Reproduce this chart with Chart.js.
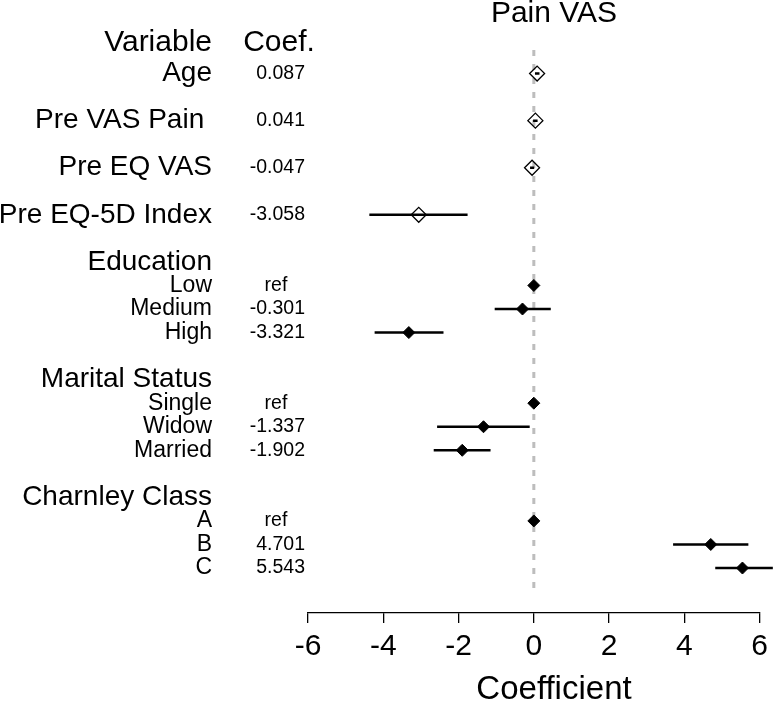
<!DOCTYPE html>
<html><head><meta charset="utf-8">
<script src="https://cdn.jsdelivr.net/npm/chart.js@4"></script>
<style>html,body{margin:0;padding:0;background:#fff;}#wrap{width:774px;height:704px;}</style>
</head><body><div id="wrap"><canvas id="c" width="774" height="704"></canvas></div>
<script>
// ---- data ----
const chartTitle = "Pain VAS";
const xAxisTitle = "Coefficient";
const headerLabels = ["Variable", "Coef."];
const rowLabels = ["Age", "Pre VAS Pain ", "Pre EQ VAS", "Pre EQ-5D Index",
  "Education", "Low", "Medium", "High",
  "Marital Status", "Single", "Widow", "Married",
  "Charnley Class", "A", "B", "C"];
const rowKinds = ["main", "main", "main", "main",
  "group", "sub", "sub", "sub",
  "group", "sub", "sub", "sub",
  "group", "sub", "sub", "sub"];
const rowPositions = [0, 2, 4, 6, 8, 9, 10, 11, 13, 14, 15, 16, 18, 19, 20, 21];
const coefTexts = ["0.087", "0.041", "-0.047", "-3.058",
  "", "ref", "-0.301", "-3.321",
  "", "ref", "-1.337", "-1.902",
  "", "ref", "4.701", "5.543"];
const coefValues = [0.087, 0.041, -0.047, -3.058,
  null, 0, -0.301, -3.321,
  null, 0, -1.337, -1.902,
  null, 0, 4.701, 5.543];
const ciLower = [0.03, -0.02, -0.10, -4.37,
  null, null, -1.04, -4.23,
  null, null, -2.57, -2.66,
  null, null, 3.70, 4.82];
const ciUpper = [0.15, 0.10, 0.01, -1.76,
  null, null, 0.45, -2.40,
  null, null, -0.11, -1.15,
  null, null, 5.70, 6.35];
const openMarker = [true, true, true, true,
  false, false, false, false,
  false, false, false, false,
  false, false, false, false];
const xTickValues = [-6, -4, -2, 0, 2, 4, 6];
const xTickLabels = ["-6", "-4", "-2", "0", "2", "4", "6"];
const refLineRange = [-1, 22];

// ---- build datasets ----
const FONT = "'Liberation Sans', Arial, Helvetica, sans-serif";
const ciData = [];
const openPts = [];
const filledPts = [];
rowLabels.forEach((lab, i) => {
  const r = rowPositions[i];
  if (ciLower[i] !== null && ciUpper[i] !== null) {
    ciData.push({x: ciLower[i], y: r}, {x: ciUpper[i], y: r}, {x: null, y: null});
  }
  if (coefValues[i] !== null) {
    (openMarker[i] ? openPts : filledPts).push({x: coefValues[i], y: r});
  }
});

const textPlugin = {
  id: 'forestText',
  afterDraw(chart) {
    const ctx = chart.ctx;
    const ys = chart.scales.y;
    ctx.save();
    ctx.fillStyle = '#000';
    ctx.textBaseline = 'middle';
    // title
    ctx.font = `30px ${FONT}`;
    ctx.textAlign = 'center';
    ctx.fillText(chartTitle, 554, 14);
    // axis title
    ctx.font = `33px ${FONT}`;
    ctx.fillText(xAxisTitle, 554, 690);
    // headers
    const hy = ys.getPixelForValue(-1.30);
    ctx.font = `30px ${FONT}`;
    ctx.textAlign = 'right';
    ctx.fillText(headerLabels[0], 212, hy);
    ctx.textAlign = 'center';
    ctx.fillText(headerLabels[1], 279, hy);
    // rows
    rowLabels.forEach((lab, i) => {
      const y = ys.getPixelForValue(rowPositions[i]);
      const k = rowKinds[i];
      ctx.font = (k === 'sub' ? '23px ' : '28px ') + FONT;
      ctx.textAlign = 'right';
      ctx.fillText(lab, 212, y);
      const t = coefTexts[i];
      if (t) {
        ctx.font = `19.5px ${FONT}`;
        if (t === 'ref') { ctx.textAlign = 'center'; ctx.fillText(t, 276, y); }
        else { ctx.textAlign = 'right'; ctx.fillText(t, 305, y); }
      }
    });
    ctx.restore();
  }
};

new Chart(document.getElementById('c'), {
  type: 'scatter',
  data: {
    datasets: [
      {
        type: 'line', data: refLineRange.map(v => ({x: 0, y: v})),
        borderColor: '#bdbdbd', borderWidth: 3, borderDash: [6, 8],
        pointRadius: 0, order: 3, clip: false
      },
      {
        type: 'line', data: ciData, borderColor: '#000', borderWidth: 2.5,
        pointRadius: 0, spanGaps: false, order: 2, clip: false, borderCapStyle: 'butt'
      },
      {
        data: openPts, pointStyle: 'rectRot', pointRadius: 7.5,
        borderColor: '#000', borderWidth: 1.3, backgroundColor: 'rgba(0,0,0,0)', order: 1, clip: false
      },
      {
        data: filledPts, pointStyle: 'rectRot', pointRadius: 6,
        borderColor: '#000', borderWidth: 1, backgroundColor: '#000', order: 0, clip: false
      }
    ]
  },
  options: {
    responsive: false, animation: false, devicePixelRatio: 1,
    layout: {padding: {left: 308, right: 12, top: 50, bottom: 0}},
    plugins: {legend: {display: false}, tooltip: {enabled: false}, title: {display: false}},
    scales: {
      x: {
        type: 'linear', position: 'bottom', min: -6, max: 6,
        afterBuildTicks: s => { s.ticks = xTickValues.map(v => ({value: v})); },
        afterFit: s => { s.height = 91; },
        ticks: {
          color: '#000', font: {family: FONT, size: 30}, padding: 6,
          callback: (v) => xTickLabels[xTickValues.indexOf(v)]
        },
        grid: {drawOnChartArea: false, drawTicks: true, tickLength: 10, color: '#000', lineWidth: 1.3},
        border: {display: true, color: '#000', width: 1.3}
      },
      y: {type: 'linear', reverse: true, min: -1, max: 22.91, display: false}
    }
  },
  plugins: [textPlugin]
});
</script></body></html>
